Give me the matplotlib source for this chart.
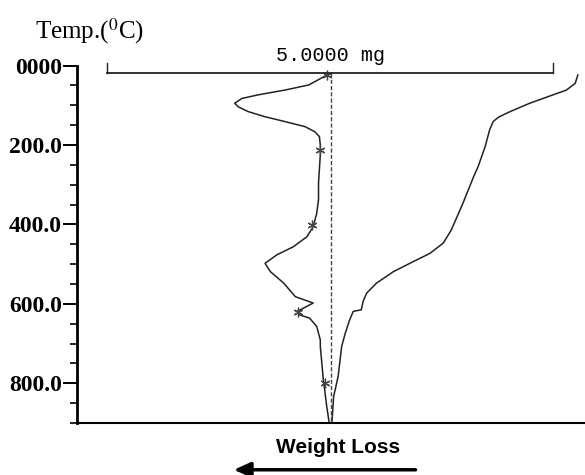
import matplotlib.pyplot as plt
from matplotlib.ticker import FixedLocator, FixedFormatter, MultipleLocator

plt.rcParams['mathtext.fontset'] = 'stix'

# Temperature axis labels
temp_ticks = [0, 200, 400, 600, 800]
temp_labels = ['0000', '200.0', '400.0', '600.0', '800.0']

# DTA-like trace (deflection in mg units, temperature in deg C)
dta_x = [-0.045, -0.25, -0.52, -0.82, -1.00, -1.08, -1.04, -0.93, -0.74, -0.52,
         -0.29, -0.18, -0.13, -0.12, -0.12, -0.14, -0.14, -0.16, -0.20, -0.27,
         -0.42, -0.61, -0.74, -0.68, -0.53, -0.40, -0.20, -0.31, -0.38, -0.35,
         -0.24, -0.16, -0.12, -0.12, -0.086, -0.067, -0.048, -0.02]
dta_t = [24, 49, 62, 74, 83, 95, 104, 116, 129, 141,
         154, 167, 179, 200, 225, 296, 338, 372, 406, 431,
         456, 477, 498, 519, 548, 582, 598, 611, 619, 628,
         636, 657, 691, 707, 791, 824, 858, 900]

# asterisk marks on the DTA trace
mark_x = [-0.045, -0.12, -0.21, -0.37, -0.07]
mark_t = [24, 213, 401, 620, 800]

# TG trace
tg_x = [2.77, 2.74, 2.64, 2.49, 2.23, 2.01, 1.88, 1.82, 1.78, 1.73, 1.65, 1.60,
        1.48, 1.35, 1.26, 1.11, 0.92, 0.70, 0.51, 0.40, 0.36, 0.34, 0.25, 0.21,
        0.16, 0.12, 0.08, 0.03, 0.01]
tg_t = [24, 45, 62, 74, 95, 116, 130, 141, 162, 204, 255, 280,
        347, 414, 447, 473, 494, 519, 548, 573, 594, 615, 619, 640,
        674, 707, 783, 833, 900]

# 5.0000 mg scale bar
bar_x = [-2.51, 2.49]
bar_t = 19

fig = plt.figure(figsize=(5.85, 4.75), dpi=100)
ax = fig.add_axes([0.1316, 0.1095, 0.8684, 0.7526])

ax.plot(dta_x, dta_t, color='#222222', lw=1.1)
ax.plot(mark_x, mark_t, ls='none', marker=(6, 2, 0), ms=7, mew=0.9, color='#444444')
ax.plot(tg_x, tg_t, color='#222222', lw=1.1)

# reference line
ax.plot([0, 0], [bar_t, 900], color='#444444', lw=1.0, ls=(0, (3, 1.5)))

# scale bar
ax.plot(bar_x, [bar_t, bar_t], color='#222222', lw=1.3, clip_on=False)
for bx in bar_x:
    ax.plot([bx, bx], [bar_t, -7], color='#222222', lw=1.0, clip_on=False)
ax.text(0, -25, '5.0000 mg', ha='center', va='center', fontsize=14.5,
        family='Liberation Mono')

ax.set_xlim(-2.85, 2.85)
ax.set_ylim(900, 0)

ax.yaxis.set_major_locator(FixedLocator(temp_ticks))
ax.yaxis.set_major_formatter(FixedFormatter(temp_labels))
ax.yaxis.set_minor_locator(MultipleLocator(50))
ax.tick_params(axis='y', which='major', length=10, width=1.4, pad=1)
ax.tick_params(axis='y', which='minor', length=5, width=1.2)
for lab in ax.get_yticklabels():
    lab.set_family('Liberation Serif')
    lab.set_fontweight('bold')
    lab.set_fontsize(17)
ax.set_xticks([])

ax.spines['top'].set_visible(False)
ax.spines['right'].set_visible(False)
ax.spines['left'].set_linewidth(2)
ax.spines['bottom'].set_linewidth(1.5)

fig.text(0.06, 0.935, 'Temp.($^{0}$C)', fontsize=18, family='Liberation Serif',
         ha='left', va='center')

fig.text(0.578, 0.057, 'Weight Loss', fontsize=15, fontweight='bold',
         family='Liberation Sans', ha='center', va='center')
# arrow below the label
ax.annotate('', xy=(0.395, 0.011), xytext=(0.715, 0.011), xycoords='figure fraction',
            arrowprops=dict(arrowstyle='-|>,head_length=1.0,head_width=0.45',
                            color='black', lw=2.5))

plt.savefig('out.png', dpi=100)
plt.close()
